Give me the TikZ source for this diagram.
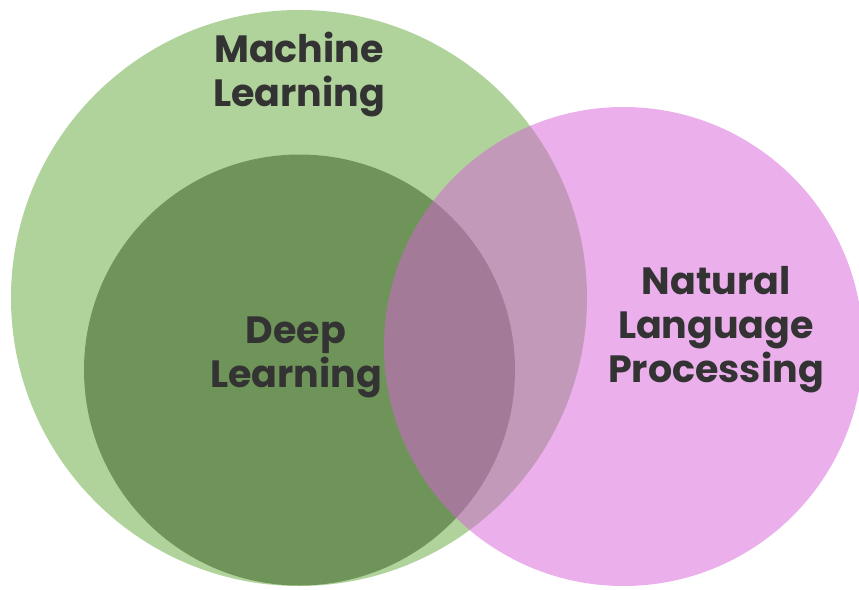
\documentclass[tikz,border=0pt]{standalone}
\usepackage{fontspec}
\setmainfont{Poppins}
\definecolor{mlgreen}{HTML}{B0D39B}
\definecolor{dlgreen}{HTML}{6F9459}
\definecolor{nlppink}{HTML}{D761D7}
\definecolor{labelgray}{HTML}{333333}
\begin{document}
\begin{tikzpicture}[x=1pt,y=-1pt]
	\useasboundingbox (0,0) rectangle (859,589);
	\clip (0,0) rectangle (859,589);
	\begin{scope}[every node/.style={circle,inner sep=0pt}]
		\node (ML) [fill=mlgreen,minimum size=576pt] at (299,298) {};
		\node (DL) [fill=dlgreen,minimum size=431pt] at (299.5,370) {};
		\node (NLP) [fill=nlppink,fill opacity=0.5,minimum size=479pt] at (623.5,346.5) {};
	\end{scope}
	
	\begin{scope}[every node/.style={align=center,text=labelgray,font=\fontsize{38}{44}\selectfont\bfseries}]
		\node (mltext) at (299,75) {Machine\\Learning};
		\node (dltext) at (296,357) {Deep\\Learning};
		\node (nlptext) at (716,330) {Natural\\Language\\Processing};
	\end{scope}
\end{tikzpicture}
\end{document}
